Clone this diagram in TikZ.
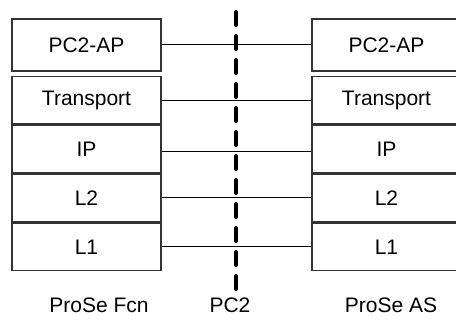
\documentclass[tikz,border=0pt]{standalone}
\usepackage{fontspec}
\setmainfont{Liberation Sans}
\usetikzlibrary{positioning}
\tikzset{
	layer/.style={draw=black!80, line width=0.7pt, minimum width=74.5pt, minimum height=23.75pt, inner sep=0pt, font=\fontsize{10.5}{12}\selectfont},
	peer/.style={draw=black, line width=0.5pt},
	refpoint/.style={draw=black, line width=2pt, line cap=round, dash pattern=on 6.5pt off 5.5pt},
	caption/.style={inner sep=0pt, font=\fontsize{10.5}{12}\selectfont}
}
\begin{document}
\begin{tikzpicture}[x=0.5pt,y=-0.5pt]
				\clip (0,0) rectangle (456,320);
				
				% ProSe function stack
				\node[layer, minimum height=26pt] (fcnap) at (86.5,45) {PC2-AP};
				\node[layer, below=2pt of fcnap] (fcntr) {Transport};
				\node[layer, below=0pt of fcntr] (fcnip) {IP};
				\node[layer, below=0pt of fcnip] (fcnltwo) {L2};
				\node[layer, below=0pt of fcnltwo] (fcnlone) {L1};
				
				% ProSe application server stack
				\node[layer, minimum height=26pt] (asap) at (386.5,45) {PC2-AP};
				\node[layer, below=2pt of asap] (astr) {Transport};
				\node[layer, below=0pt of astr] (asip) {IP};
				\node[layer, below=0pt of asip] (asltwo) {L2};
				\node[layer, below=0pt of asltwo] (aslone) {L1};
				
				% peer links
				\draw[peer] (fcnap) -- (asap);
				\draw[peer] (fcntr) -- (astr);
				\draw[peer] ([yshift=-1pt]fcnip.east) -- ([yshift=-1pt]asip.west);
				\draw[peer] (fcnltwo) -- (asltwo);
				\draw[peer] (fcnlone) -- (aslone);
				
				% reference point
				\coordinate (pctop) at (236,12);
				\coordinate (pcbot) at (236,290);
				\draw[refpoint] (pctop) -- (pcbot);
				
				\node[caption] (fcnlbl) at (99,305) {ProSe Fcn};
				\node[caption] (pclbl) at (230,305) {PC2};
				\node[caption] (aslbl) at (391,305) {ProSe AS};
			\end{tikzpicture}
\end{document}
